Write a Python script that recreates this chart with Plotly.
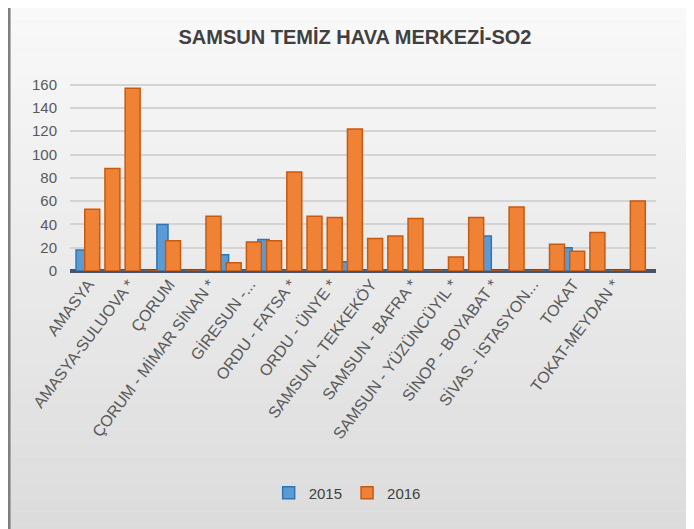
import plotly.graph_objects as go

# 28 categories; Excel shows every other label
tick_labels = ["AMASYA", "AMASYA-SULUOVA *", "ÇORUM", "ÇORUM - MİMAR SİNAN *",
               "GİRESUN -...", "ORDU - FATSA *", "ORDU - ÜNYE *", "SAMSUN - TEKKEKÖY",
               "SAMSUN - BAFRA *", "SAMSUN - YÜZÜNCÜYIL *", "SİNOP - BOYABAT *",
               "SİVAS - İSTASYON...", "TOKAT", "TOKAT-MEYDAN *"]
positions = list(range(28))
tick_positions = positions[::2]

so2_2015 = [18, 0, 0, 0, 40, 0, 0, 14, 0, 27, 0, 0, 0, 8,
            0, 0, 0, 0, 0, 0, 30, 0, 0, 0, 20, 0, 0, 0]
so2_2016 = [53, 88, 157, 0, 26, 0, 47, 7, 25, 26, 85, 47, 46, 122,
            28, 30, 45, 0, 12, 46, 0, 55, 0, 23, 17, 33, 0, 60]
y_ticks = [0, 20, 40, 60, 80, 100, 120, 140, 160]

fig = go.Figure()
fig.add_trace(go.Bar(x=positions, y=so2_2015, name="2015", width=0.55, offset=-0.6,
                     marker=dict(color="#5B9BD5", line=dict(color="#2E75B6", width=1.5))))
fig.add_trace(go.Bar(x=positions, y=so2_2016, name="2016", width=0.74, offset=-0.17,
                     marker=dict(color="#F08236", line=dict(color="#C55A11", width=1.5))))

# background gradient approximation
shapes = []
n = 40
for i in range(n):
    t = i / (n - 1)
    g = int(250 - 30 * t)
    shapes.append(dict(type="rect", xref="paper", yref="paper", layer="below",
                       x0=-0.2, x1=1.2, y0=1.45 - (i + 1) * (2.85 / n), y1=1.45 - i * (2.85 / n),
                       fillcolor=f"rgb({g},{g},{g})", line=dict(width=0)))
fig.update_layout(shapes=shapes)

fig.update_layout(
    width=694, height=529,
    paper_bgcolor="#ececec", plot_bgcolor="rgba(0,0,0,0)",
    margin=dict(l=62, r=46, t=72, b=266),
    title=dict(text="<b>SAMSUN TEMİZ HAVA MERKEZİ-SO2</b>", x=0.5, xanchor="center",
               y=0.945, yanchor="middle",
               font=dict(family="Liberation Sans", size=20, color="#404040")),
    barmode="overlay",
    showlegend=True,
    legend=dict(orientation="h", x=0.473, xanchor="center", y=-1.162, yanchor="middle",
                itemwidth=30,
                font=dict(family="Liberation Sans", size=15, color="#404040"),
                bgcolor="rgba(0,0,0,0)"),
    xaxis=dict(range=[-0.9, 28.1], tickmode="array", tickvals=tick_positions, ticktext=tick_labels,
               tickangle=-53, showgrid=False, zeroline=False, showline=False, ticks="",
               automargin=False,
               tickfont=dict(family="Liberation Sans", size=16, color="#595959")),
    yaxis=dict(range=[0, 164], tickmode="array", tickvals=y_ticks, showgrid=True,
               gridcolor="#d4d4d4", gridwidth=1.5, zeroline=True, zerolinecolor="#44546A", zerolinewidth=4,
               ticklabelstandoff=12, showline=False, automargin=False,
               tickfont=dict(family="Liberation Sans", size=15, color="#595959")),
)
fig.add_shape(type="line", xref="paper", yref="paper", x0=-0.104, x1=-0.104, y0=-1.5, y1=1.5,
              line=dict(color="#7f7f7f", width=3))
fig.write_html("out.html")
